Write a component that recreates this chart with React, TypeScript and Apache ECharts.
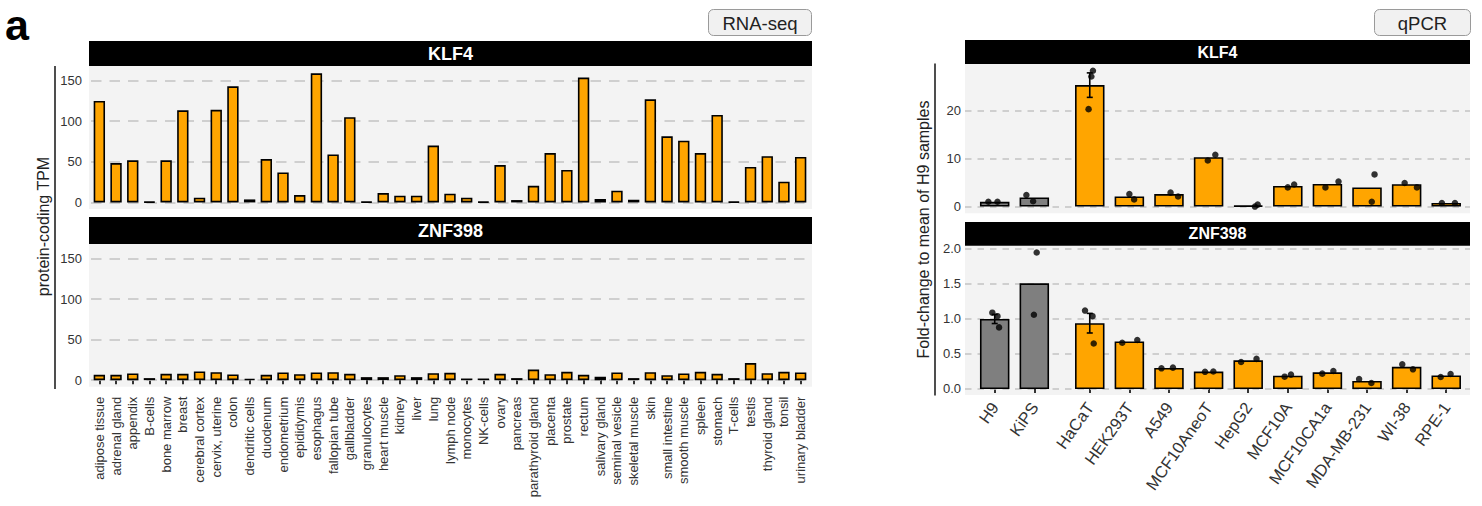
import React, { useEffect, useRef } from "react";
import * as echarts from "echarts";

// ---- RNA-seq (tissue atlas, protein-coding TPM) ----
const tissues = [
  "adipose tissue", "adrenal gland", "appendix", "B-cells", "bone marrow", "breast",
  "cerebral cortex", "cervix, uterine", "colon", "dendritic cells", "duodenum",
  "endometrium", "epididymis", "esophagus", "fallopian tube", "gallbladder",
  "granulocytes", "heart muscle", "kidney", "liver", "lung", "lymph node", "monocytes",
  "NK-cells", "ovary", "pancreas", "parathyroid gland", "placenta", "prostate", "rectum",
  "salivary gland", "seminal vesicle", "skeletal muscle", "skin", "small intestine",
  "smooth muscle", "spleen", "stomach", "T-cells", "testis", "thyroid gland", "tonsil",
  "urinary bladder",
];
const klf4Tpm = [
  125, 48.5, 51.8, 0.8, 51.8, 113.4, 5.8, 114, 143, 3.7, 53.4, 37, 9, 159, 59, 105,
  0.8, 11.5, 8.2, 8.2, 70, 10.7, 5.8, 0.8, 46, 2.9, 20.5, 60.8, 40, 153.7, 4.1, 14.4,
  3.3, 127, 81.4, 76, 60.8, 107.7, 0.8, 43.6, 57, 25.5, 56,
];
const znf398Tpm = [
  6.6, 6.6, 8.2, 2.5, 7.8, 7.8, 10.7, 9.8, 7, 1.6, 6.6, 9.4, 7.4, 9.4, 9.8, 7.8, 3.7,
  3.7, 6.1, 3.7, 8.6, 9, 2, 2, 7.8, 2.5, 13, 7.4, 10.2, 6.6, 4.1, 9.4, 2.5, 9.8, 6.1,
  8.2, 10.2, 7.8, 2.5, 21, 8.6, 10.2, 9.4,
];
const tpmTicks = [0, 50, 100, 150];

// ---- qPCR (fold-change to mean of H9) ----
const cellLines = [
  "H9", "KiPS", "HaCaT", "HEK293T", "A549", "MCF10AneoT", "HepG2", "MCF10A",
  "MCF10CA1a", "MDA-MB-231", "WI-38", "RPE-1",
];
const referenceLines = ["H9", "KiPS"];

const klf4Fold = [1.0, 1.9, 25.3, 2.1, 2.6, 10.3, 0.2, 4.3, 4.7, 4.0, 4.65, 0.75];
const klf4Se = [null, null, 2.55, null, null, null, null, null, null, null, null, null];
const klf4Replicates = [
  [1.0, 1.0], [2.4, 1.1], [28.3, 27.1, 20.3], [2.6, 1.5], [2.9, 2.1], [9.6, 10.8],
  [0.0, 0.4], [4.0, 4.6], [4.0, 5.2], [6.7, 1.0], [4.9, 4.0], [0.75, 0.75],
];
const klf4Jitter = [
  [-0.16, 0.07], [-0.2, -0.03], [0.08, 0.04, -0.03], [0, 0.12], [0.04, 0.23],
  [-0.02, 0.17], [0.17, 0.24], [0, 0.16], [-0.05, 0.28], [0.19, 0.12], [-0.05, 0.26],
  [-0.11, 0.22],
];
const klf4FoldTicks = [0, 10, 20];

const znf398Fold = [1.0, 1.51, 0.94, 0.68, 0.3, 0.248, 0.41, 0.19, 0.238, 0.115, 0.317, 0.193];
const znf398Se = [0.065, null, 0.14, null, null, null, null, null, null, null, null, null];
const znf398Replicates = [
  [1.09, 1.04, 0.88], [1.95, 1.06], [1.12, 1.04, 0.65], [0.66, 0.7], [0.295, 0.305],
  [0.245, 0.25], [0.386, 0.43], [0.176, 0.205], [0.219, 0.257], [0.143, 0.086],
  [0.352, 0.281], [0.171, 0.214],
];
const znf398Jitter = [
  [-0.06, 0.07, 0.11], [0.06, -0.01], [-0.12, 0.07, 0.1], [-0.18, 0.2], [-0.19, 0.1],
  [-0.09, 0.12], [-0.18, 0.21], [-0.08, 0.08], [-0.13, 0.15], [-0.2, 0.11],
  [-0.11, 0.16], [-0.14, 0.11],
];
const znf398FoldTicks = [0, 0.5, 1, 1.5, 2];

// ---- styling ----
const FONT = "'Liberation Sans', Arial, Helvetica, sans-serif";
const ORANGE = "#FFA500";
const GREY = "#7F7F7F";
const PANEL = "#F3F3F3";
const GRIDLINE = "#C4C4C4";
const INK = "#222222";
const TICK_TEXT = "#333333";
const GROUP_GAP = 0.4; // extra space between reference lines and the other cell lines

const slot = (i: number) => i + (i >= referenceLines.length ? GROUP_GAP : 0);
const slots = cellLines.map((_, i) => slot(i));

const gridLines = (values: number[], dash: number[]) => ({
  silent: true,
  symbol: "none",
  label: { show: false },
  lineStyle: { color: GRIDLINE, width: 1.6, type: dash },
  data: values.map((v) => ({ yAxis: v })),
});

const foldBars = (values: number[], axis: number, ticks: number[]) => ({
  type: "bar",
  xAxisIndex: axis,
  yAxisIndex: axis,
  z: 10,
  barWidth: 29.5,
  data: values.map((v, i) => ({
    value: [slots[i], v],
    itemStyle: { color: referenceLines.includes(cellLines[i]) ? GREY : ORANGE },
  })),
  itemStyle: { borderColor: "#000", borderWidth: 1.6 },
  markLine: gridLines(ticks, [6.5, 6]),
});

const errorBars = (values: number[], se: (number | null)[], axis: number) => ({
  type: "custom",
  xAxisIndex: axis,
  yAxisIndex: axis,
  z: 11,
  encode: { x: 0, y: [1, 2] },
  data: values
    .map((v, i) => (se[i] == null ? null : [slots[i], v - (se[i] as number), v + (se[i] as number)]))
    .filter((d) => d !== null),
  renderItem: (_params: any, api: any) => {
    const x = api.value(0);
    const hi = api.coord([x, api.value(2)]);
    const lo = api.coord([x, api.value(1)]);
    const cap = 3;
    const style = { stroke: "#000", lineWidth: 1.6 };
    return {
      type: "group",
      children: [
        { type: "line", shape: { x1: hi[0], y1: hi[1], x2: lo[0], y2: lo[1] }, style },
        { type: "line", shape: { x1: hi[0] - cap, y1: hi[1], x2: hi[0] + cap, y2: hi[1] }, style },
        { type: "line", shape: { x1: lo[0] - cap, y1: lo[1], x2: lo[0] + cap, y2: lo[1] }, style },
      ],
    };
  },
});

const replicatePoints = (reps: number[][], jitter: number[][], axis: number) => ({
  type: "scatter",
  xAxisIndex: axis,
  yAxisIndex: axis,
  z: 12,
  symbolSize: 6.5,
  itemStyle: { color: "#000" },
  data: reps.flatMap((r, i) => r.map((v, k) => [slots[i] + jitter[i][k], v])),
});

const stripRect = (x: number, y: number, w: number, h: number, label: string, size: number) => [
  { type: "rect", z: 0, shape: { x, y, width: w, height: h }, style: { fill: "#000" } },
  {
    type: "text",
    z: 1,
    x: x + w / 2,
    y: y + h / 2,
    style: {
      text: label,
      fill: "#fff",
      fontFamily: FONT,
      fontWeight: "bold",
      fontSize: size,
      align: "center",
      verticalAlign: "middle",
    },
  },
];

const tagBox = (x: number, y: number, w: number, h: number, label: string) => [
  {
    type: "rect",
    z: 0,
    shape: { x, y, width: w, height: h, r: 5 },
    style: { fill: "#F1F1F1", stroke: "#9A9A9A", lineWidth: 1 },
  },
  {
    type: "text",
    z: 1,
    x: x + w / 2,
    y: y + h / 2 + 0.5,
    style: { text: label, fill: INK, fontFamily: FONT, fontSize: 18.5, align: "center", verticalAlign: "middle" },
  },
];

const panelBg = (x: number, y: number, w: number, h: number) => ({
  type: "rect",
  z: 0,
  shape: { x, y, width: w, height: h },
  style: { fill: PANEL },
});

const tickLabel = { fontFamily: FONT, fontSize: 13, color: TICK_TEXT };

function buildOption() {
  const tpmAxis = (gridIndex: number) => ({
    gridIndex,
    type: "value",
    min: -8.1,
    max: 168,
    axisLine: { show: false },
    axisTick: { show: false },
    splitLine: { show: false },
    axisLabel: { ...tickLabel, customValues: tpmTicks, margin: 9 },
  });

  return {
    animation: false,
    backgroundColor: "#fff",
    textStyle: { fontFamily: FONT },
    grid: [
      { left: 91, top: 66, width: 718, height: 143 },
      { left: 91, top: 244, width: 718, height: 142.7 },
      { left: 965, top: 64, width: 505, height: 149.3 },
      { left: 965, top: 245.7, width: 505, height: 149.3 },
    ],
    xAxis: [
      { gridIndex: 0, type: "category", data: tissues, show: false },
      {
        gridIndex: 1,
        type: "category",
        data: tissues,
        axisLine: { show: false },
        axisTick: { show: true, alignWithLabel: true, length: 4, lineStyle: { color: TICK_TEXT, width: 2 } },
        axisLabel: { ...tickLabel, rotate: 90, interval: 0, margin: 10 },
      },
      { gridIndex: 2, type: "value", min: -0.75, max: 12, show: false },
      {
        gridIndex: 3,
        type: "value",
        min: -0.75,
        max: 12,
        axisLine: { show: false },
        splitLine: { show: false },
        axisTick: { show: true, customValues: slots, length: 4, lineStyle: { color: TICK_TEXT, width: 2 } },
        axisLabel: {
          ...tickLabel,
          fontSize: 16.5,
          rotate: 55,
          margin: 9,
          customValues: slots,
          formatter: (v: number) => {
            const i = slots.findIndex((s) => Math.abs(s - v) < 1e-6);
            return i >= 0 ? cellLines[i] : "";
          },
        },
      },
    ],
    yAxis: [
      tpmAxis(0),
      tpmAxis(1),
      {
        gridIndex: 2,
        type: "value",
        min: -1.4,
        max: 29.7,
        axisLine: { show: false },
        axisTick: { show: false },
        splitLine: { show: false },
        axisLabel: { ...tickLabel, customValues: klf4FoldTicks, margin: 4 },
      },
      {
        gridIndex: 3,
        type: "value",
        min: -0.086,
        max: 2.047,
        axisLine: { show: false },
        axisTick: { show: false },
        splitLine: { show: false },
        axisLabel: {
          ...tickLabel,
          customValues: znf398FoldTicks,
          margin: 4,
          formatter: (v: number) => v.toFixed(1),
        },
      },
    ],
    graphic: [
      panelBg(89, 66, 723, 143),
      panelBg(89, 244, 723, 142.7),
      panelBg(965, 64, 505, 149.3),
      panelBg(965, 245.7, 505, 149.3),
      ...stripRect(89, 41, 723, 25, "KLF4", 18),
      ...stripRect(89, 217, 723, 27, "ZNF398", 18),
      ...stripRect(965, 40, 505, 24, "KLF4", 16),
      ...stripRect(965, 222, 505, 23.7, "ZNF398", 16),
      ...tagBox(708.5, 9.5, 103, 26, "RNA-seq"),
      ...tagBox(1374.5, 9.5, 96, 26, "qPCR"),
      { type: "line", z: 1, shape: { x1: 55, y1: 66, x2: 55, y2: 389 }, style: { stroke: INK, lineWidth: 1.6 } },
      { type: "line", z: 1, shape: { x1: 935, y1: 63.5, x2: 935, y2: 395.5 }, style: { stroke: INK, lineWidth: 1.6 } },
      {
        type: "text",
        z: 1,
        x: 43.5,
        y: 226.5,
        rotation: Math.PI / 2,
        style: { text: "protein-coding TPM", fill: INK, fontFamily: FONT, fontSize: 16, align: "center", verticalAlign: "middle" },
      },
      {
        type: "text",
        z: 1,
        x: 923,
        y: 229.5,
        rotation: Math.PI / 2,
        style: {
          text: "Fold-change to mean of H9 samples",
          fill: INK,
          fontFamily: FONT,
          fontSize: 16,
          align: "center",
          verticalAlign: "middle",
        },
      },
      {
        type: "text",
        z: 1,
        x: 5,
        y: 24.5,
        style: { text: "a", fill: "#000", fontFamily: FONT, fontWeight: "bold", fontSize: 43, align: "left", verticalAlign: "middle" },
      },
    ],
    series: [
      {
        type: "bar",
        xAxisIndex: 0,
        yAxisIndex: 0,
        z: 10,
        barWidth: "68%",
        data: klf4Tpm,
        itemStyle: { color: ORANGE, borderColor: "#000", borderWidth: 1.6 },
        markLine: gridLines(tpmTicks, [10.5, 8]),
      },
      {
        type: "bar",
        xAxisIndex: 1,
        yAxisIndex: 1,
        z: 10,
        barWidth: "68%",
        data: znf398Tpm,
        itemStyle: { color: ORANGE, borderColor: "#000", borderWidth: 1.6 },
        markLine: gridLines(tpmTicks, [10.5, 8]),
      },
      foldBars(klf4Fold, 2, klf4FoldTicks),
      errorBars(klf4Fold, klf4Se, 2),
      replicatePoints(klf4Replicates, klf4Jitter, 2),
      foldBars(znf398Fold, 3, znf398FoldTicks),
      errorBars(znf398Fold, znf398Se, 3),
      replicatePoints(znf398Replicates, znf398Jitter, 3),
    ],
  };
}

export default function App() {
  const ref = useRef<HTMLDivElement>(null);
  useEffect(() => {
    if (!ref.current) return;
    const chart = echarts.init(ref.current, undefined, { renderer: "svg" });
    chart.setOption(buildOption() as any);
    return () => chart.dispose();
  }, []);
  return <div ref={ref} style={{ position: "absolute", left: 0, top: 0, width: 1482, height: 506 }} />;
}
